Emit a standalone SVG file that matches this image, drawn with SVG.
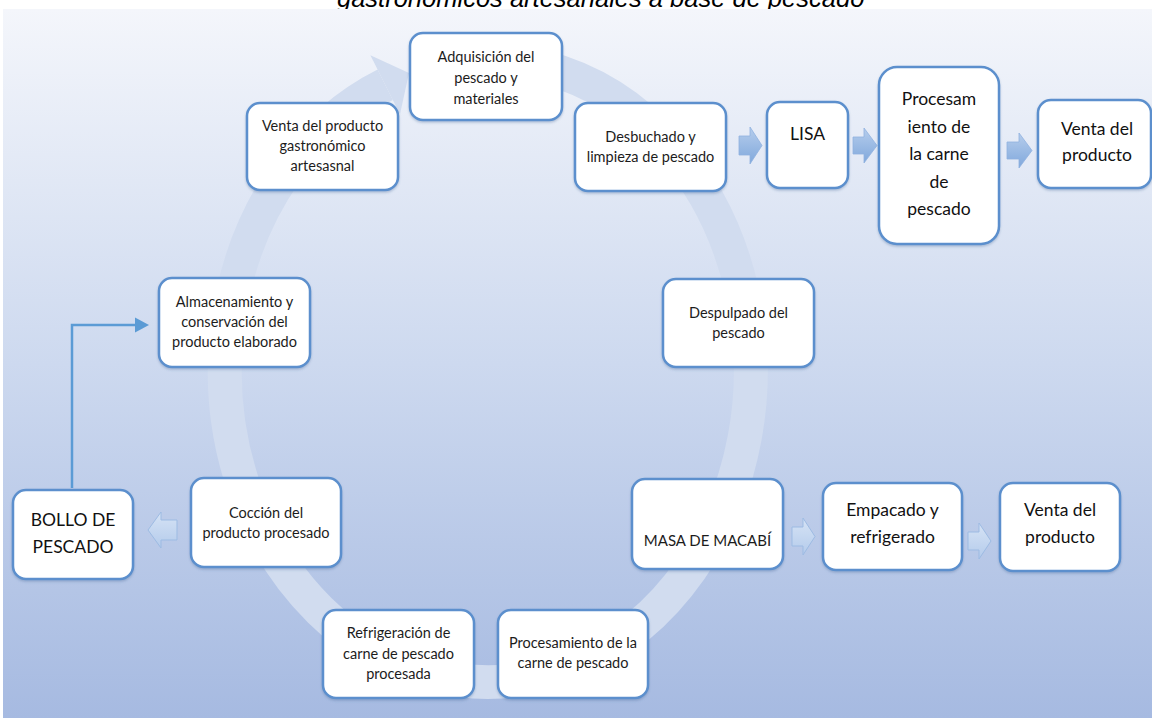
<svg xmlns="http://www.w3.org/2000/svg" width="1152" height="718" viewBox="0 0 1152 718">
<defs>
<linearGradient id="bg" x1="0" y1="0" x2="0" y2="1">
<stop offset="0" stop-color="#f4f6fb"/>
<stop offset="0.5" stop-color="#cdd9ef"/>
<stop offset="1" stop-color="#a6bae1"/>
</linearGradient>
<linearGradient id="blk" x1="0" y1="0" x2="0" y2="1">
<stop offset="0" stop-color="#b6cdec"/>
<stop offset="1" stop-color="#80a8dc"/>
</linearGradient>
<linearGradient id="blkl" x1="0" y1="0" x2="0" y2="1">
<stop offset="0" stop-color="#d6e3f5"/>
<stop offset="1" stop-color="#b4cbeb"/>
</linearGradient>
<filter id="sh" x="-10%" y="-10%" width="120%" height="130%">
<feDropShadow dx="0" dy="1.5" stdDeviation="1.2" flood-color="#4a6a99" flood-opacity="0.35"/>
</filter>
</defs>
<style>
.box{fill:#ffffff;stroke:#5b8fcd;stroke-width:2.5;filter:url(#sh)}
.t{font-family:Lato,"Open Sans","Liberation Sans",sans-serif;font-size:14.5px;fill:#1c1c1c;text-anchor:middle}
.tl{font-family:Lato,"Open Sans","Liberation Sans",sans-serif;font-size:17.5px;fill:#111111;text-anchor:middle}
.ba{fill:url(#blk);stroke:#8fb1df;stroke-width:0.8}
.bl{fill:url(#blkl);stroke:#9dbbe3;stroke-width:1}
.ring{fill:none;stroke:#d1dcef;stroke-width:34}
</style>
<rect x="0" y="0" width="1152" height="718" fill="#ffffff"/>
<text x="337" y="6.5" font-family="Liberation Sans, Arial, sans-serif" font-style="italic" font-size="25.5" fill="#000000">gastronómicos artesanales a base de pescado</text>
<rect x="3" y="9" width="1149" height="709" fill="url(#bg)"/>
<g id="cycle-arrow">
<path class="ring" d="M 419.9 70.6 A 263 311 0 1 1 385.2 84.7"/>
<polygon fill="#d1dcef" points="370.4,55.2 409,73 400,114.2"/>
</g>
<g id="connectors">
<path d="M72 488 V325 H137" fill="none" stroke="#5b9bd5" stroke-width="2.5"/>
<polygon points="135,317.5 149,325 135,332.5" fill="#5b9bd5"/>
<polygon class="ba" points="739,136 750,136 750,127 762,145.5 750,164 750,155 739,155"/>
<polygon class="ba" points="853,137 864,137 864,128 877,145.5 864,163 864,154 853,154"/>
<polygon class="ba" points="1007,142 1019,142 1019,133 1032,150.5 1019,168 1019,159 1007,159"/>
<polygon class="bl" points="177,520 161,520 161,512 148,530 161,548 161,540 177,540"/>
<polygon class="bl" points="792,527 803,527 803,518 815,536.5 803,555 803,546 792,546"/>
<polygon class="bl" points="968,532 979,532 979,523 991,541 979,559 979,550 968,550"/>
</g>
<g id="adquisicion">
<rect class="box" x="410" y="33" width="152" height="87" rx="13"/>
<text class="t" x="486" y="62">Adquisición del</text>
<text class="t" x="486" y="83">pescado y</text>
<text class="t" x="486" y="104">materiales</text>
</g>
<g id="venta-artesanal">
<rect class="box" x="247" y="103" width="151" height="87" rx="13"/>
<text class="t" x="322.5" y="131">Venta del producto</text>
<text class="t" x="322.5" y="151">gastronómico</text>
<text class="t" x="322.5" y="171">artesasnal</text>
</g>
<g id="desbuchado">
<rect class="box" x="575" y="103" width="151" height="88" rx="13"/>
<text class="t" x="650.5" y="142">Desbuchado y</text>
<text class="t" x="650.5" y="162">limpieza de pescado</text>
</g>
<g id="lisa">
<rect class="box" x="767" y="102" width="81" height="86" rx="13"/>
<text class="tl" x="807.5" y="140">LISA</text>
</g>
<g id="procesamiento-lisa">
<rect class="box" x="879" y="67" width="120" height="177" rx="18"/>
<text class="tl" x="939" y="105">Procesam</text>
<text class="tl" x="939" y="132.5">iento de</text>
<text class="tl" x="939" y="160">la carne</text>
<text class="tl" x="939" y="187.5">de</text>
<text class="tl" x="939" y="215">pescado</text>
</g>
<g id="venta-lisa">
<rect class="box" x="1038" y="100" width="113" height="88" rx="13"/>
<text class="tl" x="1097" y="135">Venta del</text>
<text class="tl" x="1097" y="161">producto</text>
</g>
<g id="almacenamiento">
<rect class="box" x="159" y="278" width="151" height="89" rx="13"/>
<text class="t" x="234.5" y="307">Almacenamiento y</text>
<text class="t" x="234.5" y="327">conservación del</text>
<text class="t" x="234.5" y="347">producto elaborado</text>
</g>
<g id="despulpado">
<rect class="box" x="663" y="279" width="151" height="88" rx="13"/>
<text class="t" x="738.5" y="318">Despulpado del</text>
<text class="t" x="738.5" y="338">pescado</text>
</g>
<g id="bollo">
<rect class="box" x="13" y="490" width="120" height="89" rx="13"/>
<text class="tl" x="73" y="526">BOLLO DE</text>
<text class="tl" x="73" y="553">PESCADO</text>
</g>
<g id="coccion">
<rect class="box" x="191" y="478" width="150" height="89" rx="13"/>
<text class="t" x="266" y="518">Cocción del</text>
<text class="t" x="266" y="538">producto procesado</text>
</g>
<g id="masa">
<rect class="box" x="632" y="479" width="151" height="90" rx="13"/>
<text class="t" x="707.5" y="546" style="font-size:15px">MASA DE MACABÍ</text>
</g>
<g id="empacado">
<rect class="box" x="823" y="483" width="139" height="87" rx="13"/>
<text class="tl" x="892.5" y="516">Empacado y</text>
<text class="tl" x="892.5" y="543">refrigerado</text>
</g>
<g id="venta-macabi">
<rect class="box" x="1000" y="483" width="120" height="88" rx="13"/>
<text class="tl" x="1060" y="516">Venta del</text>
<text class="tl" x="1060" y="543">producto</text>
</g>
<g id="refrigeracion">
<rect class="box" x="323" y="610" width="151" height="88" rx="13"/>
<text class="t" x="398.5" y="638">Refrigeración de</text>
<text class="t" x="398.5" y="659">carne de pescado</text>
<text class="t" x="398.5" y="679">procesada</text>
</g>
<g id="procesamiento-carne">
<rect class="box" x="498" y="610" width="150" height="88" rx="13"/>
<text class="t" x="573" y="648">Procesamiento de la</text>
<text class="t" x="573" y="668">carne de pescado</text>
</g>
</svg>
